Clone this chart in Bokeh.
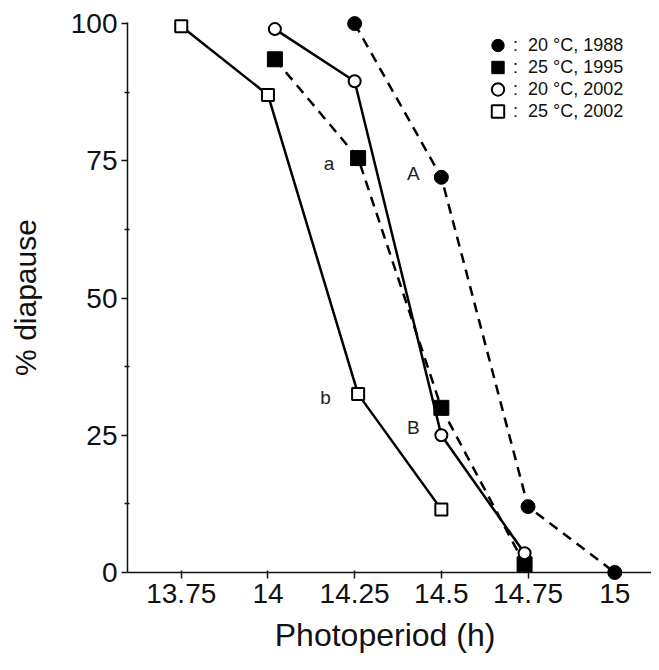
from bokeh.plotting import figure
from bokeh.models import Range1d, FixedTicker, Legend, LegendItem, NumeralTickFormatter
from bokeh.core.properties import value
from bokeh.embed import file_html
from bokeh.resources import INLINE

# ---- data ----
x_ticks = [13.75, 14, 14.25, 14.5, 14.75, 15]
y_ticks = [0, 25, 50, 75, 100]
y_minor_ticks = [12.5, 37.5, 62.5, 87.5]

photoperiod_20c_1988 = [14.25, 14.5, 14.75, 15.0]
diapause_20c_1988 = [100, 72, 12, 0]

photoperiod_25c_1995 = [14.02, 14.26, 14.5, 14.74]
diapause_25c_1995 = [93.5, 75.5, 30, 1.5]

photoperiod_20c_2002 = [14.02, 14.25, 14.5, 14.74]
diapause_20c_2002 = [99, 89.5, 25, 3.5]

photoperiod_25c_2002 = [13.75, 14.0, 14.26, 14.5]
diapause_25c_2002 = [99.5, 87, 32.5, 11.5]

series_labels = [":  20 °C, 1988", ":  25 °C, 1995", ":  20 °C, 2002", ":  25 °C, 2002"]

letters = ["a", "A", "b", "B"]
letter_x = [14.176, 14.419, 14.166, 14.419]
letter_y = [74.6, 72.7, 31.9, 26.4]

FONT = "Liberation Sans"

p = figure(width=651, height=662,
           x_range=Range1d(13.595, 15.106), y_range=Range1d(0, 100.2),
           output_backend="svg", toolbar_location=None,
           min_border_left=127, min_border_right=0,
           min_border_top=22, min_border_bottom=90)
p.grid.visible = False
p.outline_line_color = None
p.background_fill_color = "white"

# axes
xa = p.xaxis[0]
xa.ticker = FixedTicker(ticks=x_ticks, minor_ticks=[])
xa.formatter = NumeralTickFormatter(format="0.[00]")
ya = p.yaxis[0]
ya.ticker = FixedTicker(ticks=y_ticks, minor_ticks=y_minor_ticks)

for ax in (xa, ya):
    ax.axis_line_width = 1.5
    ax.axis_line_color = "#111111"
    ax.major_tick_line_width = 1.5
    ax.major_tick_line_color = "#111111"
    ax.minor_tick_line_width = 1.5
    ax.minor_tick_line_color = "#111111"
    ax.major_label_text_font = FONT
    ax.major_label_text_font_size = "28px"
    ax.major_label_text_color = "#111111"
    ax.axis_label_text_font = FONT
    ax.axis_label_text_font_style = "normal"
    ax.axis_label_text_color = "#111111"

xa.major_tick_out = 6
xa.major_tick_in = 2
xa.major_label_standoff = 5
xa.axis_label = "Photoperiod  (h)"
xa.axis_label_text_font_size = "32px"
xa.axis_label_standoff = 11

ya.major_tick_out = 6
ya.major_tick_in = 0
ya.minor_tick_out = 3
ya.minor_tick_in = 2
ya.major_label_standoff = 4
ya.axis_label = "% diapause"
ya.axis_label_text_font_size = "30px"
ya.axis_label_standoff = 26

# lines
dash = "10 7"
p.line(photoperiod_20c_1988, diapause_20c_1988, line_color="black", line_width=2.5, line_dash=dash)
p.line(photoperiod_25c_1995, diapause_25c_1995, line_color="black", line_width=2.5, line_dash=dash)
p.line(photoperiod_20c_2002, diapause_20c_2002, line_color="black", line_width=2.5)
p.line(photoperiod_25c_2002, diapause_25c_2002, line_color="black", line_width=2.5)

# markers
r_sq_f = p.scatter(photoperiod_25c_1995, diapause_25c_1995, marker="square", size=15,
                   fill_color="black", line_color="black", line_width=1, level="overlay")
r_ci_f = p.scatter(photoperiod_20c_1988, diapause_20c_1988, marker="circle", size=14,
                   fill_color="black", line_color="black", line_width=1, level="overlay")
r_sq_o = p.scatter(photoperiod_25c_2002, diapause_25c_2002, marker="square", size=12,
                   fill_color="white", line_color="black", line_width=2, level="overlay")
r_ci_o = p.scatter(photoperiod_20c_2002, diapause_20c_2002, marker="circle", size=12,
                   fill_color="white", line_color="black", line_width=2, level="overlay")

# letters
p.text(x=letter_x, y=letter_y, text=letters, text_font=value(FONT),
       text_font_size=value("19px"), text_align="center", text_baseline="middle",
       text_color="#222222")

# legend: one single-entry legend per row (rows 22 px apart)
legend_renderers = [r_ci_f, r_sq_f, r_ci_o, r_sq_o]
for i, (lab, rend) in enumerate(zip(series_labels, legend_renderers)):
    lg = Legend(items=[LegendItem(label=lab, renderers=[rend])],
                location=(355, 511 - 22 * i), glyph_width=31, glyph_height=32,
                label_height=22, spacing=0, padding=0, margin=0, label_standoff=0,
                border_line_color=None, background_fill_alpha=0,
                label_text_font=FONT, label_text_font_size="18px",
                label_text_color="#111111")
    p.add_layout(lg)

open("out.html", "w").write(file_html(p, INLINE))
